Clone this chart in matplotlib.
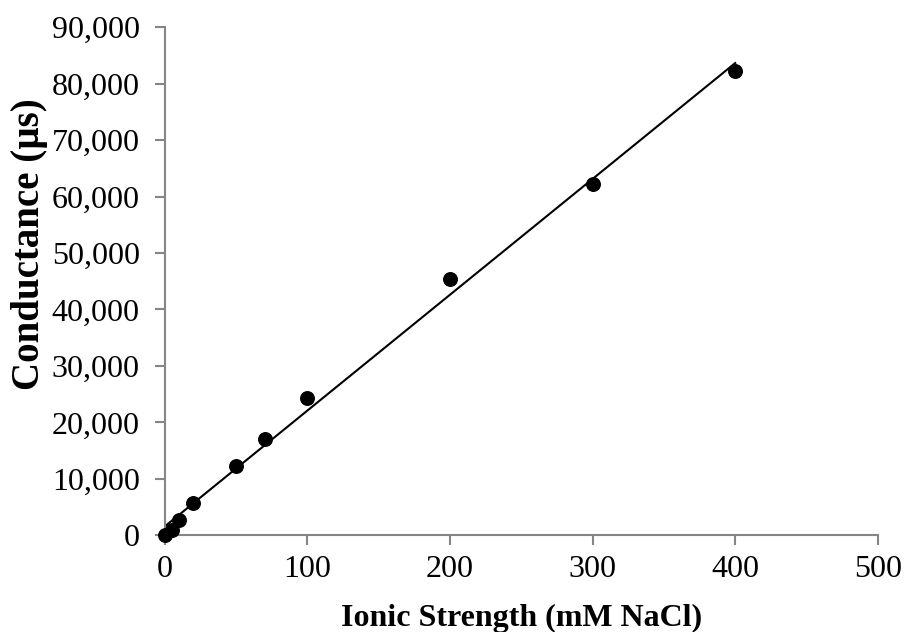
import numpy as np
import matplotlib.pyplot as plt
from matplotlib.ticker import FuncFormatter

plt.rcParams['font.family'] = ['Liberation Serif', 'DejaVu Serif']

# ionic strength (mM NaCl) and measured conductance
ionic_strength = [0, 5, 10, 20, 50, 70, 100, 200, 300, 400]
conductance = [100, 900, 2650, 5650, 12200, 17000, 24400, 45350, 62200, 82200]

x = np.array(ionic_strength)
y = np.array(conductance)
slope, intercept = np.polyfit(x, y, 1)
xfit = np.array([0, 400])

fig = plt.figure(figsize=(9.05, 6.32), dpi=100)
ax = fig.add_axes([0.182, 0.153, 0.788, 0.804])

ax.plot(xfit, slope * xfit + intercept, color='black', lw=1.5, zorder=2)
ax.scatter(x, y, s=95, color='black', zorder=3, clip_on=False)

ax.set_xlim(0, 500)
ax.set_ylim(0, 90000)
ax.set_xticks(range(0, 501, 100))
ax.set_yticks(range(0, 90001, 10000))
ax.yaxis.set_major_formatter(FuncFormatter(lambda v, p: f'{int(v):,}'))

for s in ['top', 'right']:
    ax.spines[s].set_visible(False)
for s in ['left', 'bottom']:
    ax.spines[s].set_color('#868686')
    ax.spines[s].set_linewidth(1.5)
ax.tick_params(direction='out', length=7, width=1.5, color='#868686', labelsize=23)
ax.tick_params(axis='x', pad=7)
ax.tick_params(axis='y', pad=11)

ax.set_xlabel('Ionic Strength (mM NaCl)', fontsize=23, fontweight='bold')
ax.set_ylabel('Conductance (µs)', fontsize=28, fontweight='bold')
ax.xaxis.set_label_coords(0.5, -0.135)
ax.yaxis.set_label_coords(-0.164, 0.573)

fig.savefig('out.png')
